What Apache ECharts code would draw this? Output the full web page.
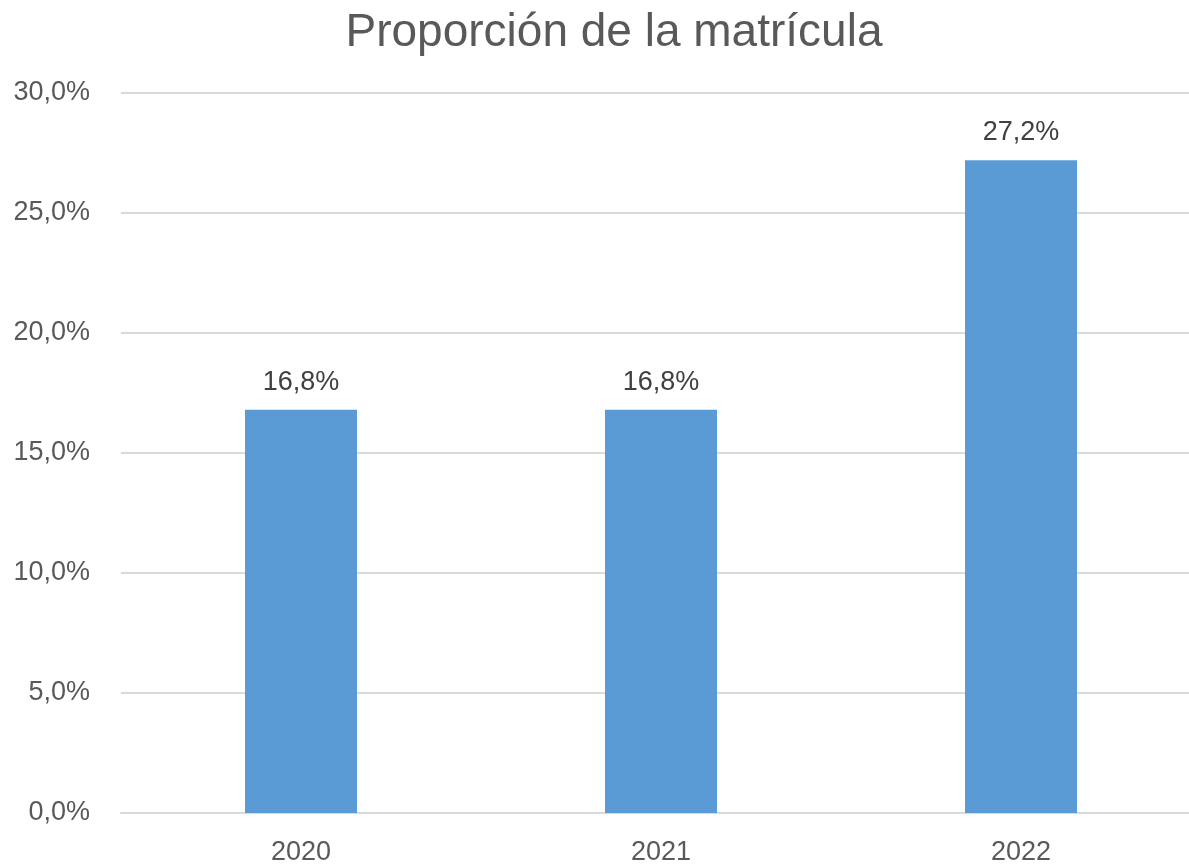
<!DOCTYPE html>
<html>
<head>
<meta charset="utf-8">
<script src="https://cdn.jsdelivr.net/npm/echarts@6/dist/echarts.min.js"></script>
<style>
  html, body { margin: 0; padding: 0; background: #fff; overflow: hidden; }
  /* plot area runs past the right edge of the window, as in the original */
  #chart { width: 1201px; height: 868px; }
</style>
</head>
<body>
<div id="chart"></div>
<script>
// Chart data
const years = ['2020', '2021', '2022'];
const shares = [16.8, 16.8, 27.2];

const fmt = v => v.toFixed(1).replace('.', ',') + '%';

const chart = echarts.init(document.getElementById('chart'));

const option = {
    animation: false,
    title: {
        text: 'Proporción de la matrícula',
        left: 609,
        textAlign: 'center',
        top: 5,
        textStyle: {
            fontFamily: 'Liberation Sans',
            fontSize: 46,
            fontWeight: 'normal',
            color: '#595959',
        },
    },
    grid: {
        left: 121,
        right: 0,
        top: 93,
        height: 720,
        containLabel: false,
    },
    xAxis: {
        type: 'category',
        data: years,
        axisLine: { lineStyle: { color: '#d9d9d9', width: 2 } },
        axisTick: { show: false },
        axisLabel: {
            margin: 26,
            fontFamily: 'Liberation Sans',
            fontSize: 27,
            color: '#595959',
        },
    },
    yAxis: {
        type: 'value',
        min: 0,
        max: 30,
        interval: 5,
        axisLine: { show: false },
        axisTick: { show: false },
        splitLine: { lineStyle: { color: '#d9d9d9', width: 2 } },
        axisLabel: {
            margin: 31,
            fontFamily: 'Liberation Sans',
            fontSize: 27,
            color: '#595959',
            formatter: fmt,
        },
    },
    series: [
        {
            type: 'bar',
            data: shares,
            barWidth: 112,
            itemStyle: { color: '#5b9bd5' },
            label: {
                show: true,
                position: 'top',
                distance: 14,
                fontFamily: 'Liberation Sans',
                fontSize: 27,
                color: '#404040',
                formatter: p => fmt(p.value),
            },
        },
    ],
};

chart.setOption(option);
</script>
</body>
</html>
